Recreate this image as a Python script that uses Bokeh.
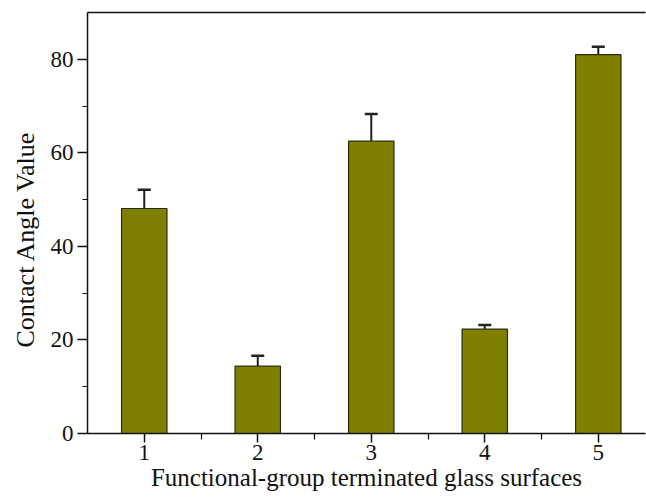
from bokeh.plotting import figure
from bokeh.models import ColumnDataSource, Whisker, TeeHead, FixedTicker, LinearAxis, Range1d, Title
from bokeh.embed import file_html
from bokeh.resources import INLINE

surfaces = [1, 2, 3, 4, 5]
contact_angle = [48.1, 14.4, 62.5, 22.3, 81.0]
error = [4.0, 2.2, 5.8, 0.9, 1.7]
x_ticks = [1, 2, 3, 4, 5]
x_minor = [1.5, 2.5, 3.5, 4.5]
y_ticks = [0, 20, 40, 60, 80]
y_minor = [10, 30, 50, 70]
x_title = "Functional-group terminated glass surfaces"
y_title = "Contact Angle Value"

upper = [v + e for v, e in zip(contact_angle, error)]
src = ColumnDataSource(data=dict(x=surfaces, top=contact_angle, upper=upper))

FONT = "Liberation Serif"

p = figure(width=646, height=498, output_backend="svg", toolbar_location=None,
           x_range=Range1d(0.5, 5.416), y_range=Range1d(0, 90),
           min_border_left=87, min_border_right=1, min_border_top=12, min_border_bottom=65)
p.outline_line_color = None
p.outline_line_alpha = 0
p.outline_line_width = 0
p.xgrid.visible = False
p.ygrid.visible = False
p.background_fill_color = "white"
p.border_fill_color = "white"

p.vbar(x="x", top="top", bottom=0, width=0.4, source=src,
       fill_color="#808000", line_color="#2a2a10", line_width=1.2)

w = Whisker(base="x", lower="top", upper="upper", source=src,
            line_color="#222222", line_width=2,
            upper_head=TeeHead(size=13, line_color="#222222", line_width=2.5),
            lower_head=None)
p.add_layout(w)

for ax in (p.xaxis[0], p.yaxis[0]):
    ax.axis_line_color = "#111111"
    ax.axis_line_width = 1.5
    ax.major_tick_line_color = "#111111"
    ax.minor_tick_line_color = "#111111"
    ax.major_tick_line_width = 1.5
    ax.minor_tick_line_width = 1.2
    ax.major_tick_in = 0
    ax.minor_tick_in = 0
    ax.major_label_text_font = FONT
    ax.major_label_text_font_size = "23px"
    ax.major_label_text_color = "#111111"
    ax.axis_label_text_font = FONT
    ax.axis_label_text_font_style = "normal"
    ax.axis_label_text_color = "#111111"

p.xaxis.ticker = FixedTicker(ticks=x_ticks, minor_ticks=x_minor)
p.yaxis.ticker = FixedTicker(ticks=y_ticks, minor_ticks=y_minor)
p.xaxis.major_tick_out = 9
p.xaxis.minor_tick_out = 6
p.yaxis.major_tick_out = 10
p.yaxis.minor_tick_out = 5
p.xaxis.major_label_standoff = 2
p.yaxis.major_label_standoff = 4
p.xaxis.axis_label = x_title
p.xaxis.axis_label_text_font_size = "25px"
p.xaxis.axis_label_standoff = 1

p.add_layout(Title(text=y_title, align="left", offset=86, standoff=15,
                   text_font=FONT, text_font_size="26px", text_font_style="normal",
                   text_color="#111111"), "left")

top_axis = LinearAxis(ticker=FixedTicker(ticks=[]), major_label_text_font_size="0px",
                      axis_line_color="#111111", axis_line_width=1.5,
                      major_tick_line_color=None, minor_tick_line_color=None)
p.add_layout(top_axis, "above")

page_template = """
{% block preamble %}
<style>html, body { overflow: hidden; }</style>
{% endblock %}
"""

open("out.html", "w").write(file_html(p, INLINE, template=page_template))
